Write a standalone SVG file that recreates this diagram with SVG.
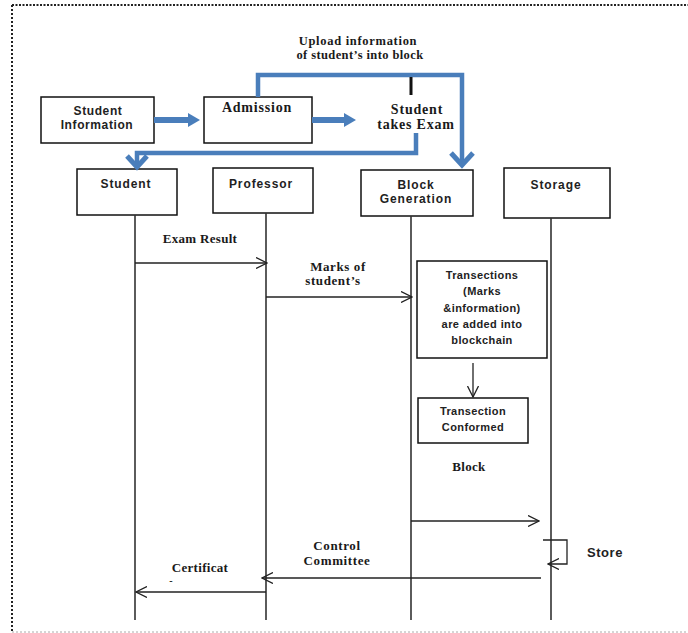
<svg xmlns="http://www.w3.org/2000/svg" width="688" height="633" viewBox="0 0 688 633">
<defs>
<style>
.box{fill:#fff;stroke:#111;stroke-width:1.5}
.life{stroke:#333;stroke-width:1.6;fill:none}
.msg{stroke:#222;stroke-width:1.3;fill:none;marker-end:url(#open)}
.blue{stroke:#4a7ebb;stroke-width:4.5;fill:none;stroke-linejoin:miter}
.serif{font-family:"Liberation Serif","Times New Roman",serif;font-weight:bold;fill:#1a1a1a;text-anchor:middle}
.sans{font-family:"Liberation Sans",Arial,sans-serif;font-weight:bold;fill:#222;text-anchor:middle}
</style>
<marker id="open" viewBox="0 0 12 12" refX="11" refY="6" markerWidth="12" markerHeight="12" markerUnits="userSpaceOnUse" orient="auto">
<path d="M0,0.5 L11,6 L0,11.5" fill="none" stroke="#222" stroke-width="1.3"/>
</marker>
</defs>
<rect width="688" height="633" fill="#fff"/>
<g id="border">
<line x1="12" y1="5" x2="688" y2="5" stroke="#222" stroke-width="2" stroke-dasharray="2,1.5"/>
<line x1="12" y1="5" x2="12" y2="632" stroke="#222" stroke-width="2" stroke-dasharray="2,2"/>
<line x1="12" y1="632" x2="688" y2="632" stroke="#aaa" stroke-width="1" stroke-dasharray="2,2"/>
</g>
<g id="upload-label">
<text class="serif" x="358" y="45" font-size="12.5" letter-spacing="0.7">Upload information</text>
<text class="serif" x="360" y="59" font-size="12.5" letter-spacing="0.4">of student’s into block</text>
</g>
<g id="student-information">
<rect class="box" x="41" y="97" width="113" height="46"/>
<text class="sans" x="98" y="115" font-size="12" letter-spacing="0.6">Student</text>
<text class="sans" x="97" y="129" font-size="12" letter-spacing="0.6">Information</text>
</g>
<g id="admission">
<rect class="box" x="204" y="97" width="108" height="46"/>
<text class="serif" x="257" y="112" font-size="14" letter-spacing="0.8">Admission</text>
</g>
<g id="student-takes-exam">
<text class="serif" x="417" y="114" font-size="14" letter-spacing="0.8">Student</text>
<text class="serif" x="416" y="129" font-size="14" letter-spacing="0.8">takes Exam</text>
</g>
<g id="student">
<rect class="box" x="77" y="169" width="100" height="46"/>
<text class="sans" x="126" y="188" font-size="12" letter-spacing="0.9">Student</text>
</g>
<g id="professor">
<rect class="box" x="213" y="168" width="100" height="45"/>
<text class="sans" x="261" y="188" font-size="12" letter-spacing="0.9">Professor</text>
</g>
<g id="block-generation">
<rect class="box" x="361" y="170" width="112" height="46"/>
<text class="sans" x="416" y="189" font-size="12" letter-spacing="0.9">Block</text>
<text class="sans" x="416" y="203" font-size="12" letter-spacing="0.9">Generation</text>
</g>
<g id="storage">
<rect class="box" x="504" y="168" width="106" height="50"/>
<text class="sans" x="556" y="189" font-size="12" letter-spacing="0.9">Storage</text>
</g>
<g id="transections">
<rect class="box" x="417" y="261" width="130" height="97"/>
<text class="sans" x="482" y="279" font-size="11" letter-spacing="0.4">Transections</text>
<text class="sans" x="482" y="295" font-size="11" letter-spacing="0.4">(Marks</text>
<text class="sans" x="482" y="312" font-size="11" letter-spacing="0.4">&amp;information)</text>
<text class="sans" x="482" y="328" font-size="11" letter-spacing="0.4">are added into</text>
<text class="sans" x="482" y="344" font-size="11" letter-spacing="0.4">blockchain</text>
</g>
<g id="transection-conformed">
<rect class="box" x="418" y="398" width="110" height="45"/>
<text class="sans" x="473" y="415" font-size="11" letter-spacing="0.4">Transection</text>
<text class="sans" x="473" y="431" font-size="11" letter-spacing="0.4">Conformed</text>
</g>
<g id="connectors">
<line class="life" x1="135" y1="215" x2="135" y2="620"/>
<line class="life" x1="266" y1="213" x2="266" y2="620"/>
<line class="life" x1="411" y1="216" x2="411" y2="620"/>
<line class="life" x1="551" y1="218" x2="551" y2="620"/>
<line x1="154" y1="120" x2="190" y2="120" stroke="#4a7ebb" stroke-width="6"/>
<polygon points="188,113 200,120 188,127" fill="#4a7ebb"/>
<line x1="312" y1="120" x2="346" y2="120" stroke="#4a7ebb" stroke-width="6"/>
<polygon points="344,113 356,120 344,127" fill="#4a7ebb"/>
<polyline class="blue" points="258,97 258,75 462,75 462,164"/>
<polyline points="451,153 462,165 473,153" fill="none" stroke="#4a7ebb" stroke-width="5"/>
<polyline class="blue" points="416,133 416,153 137,153 137,167"/>
<polyline points="127,156 137,167 147,156" fill="none" stroke="#4a7ebb" stroke-width="5"/>
<line x1="411" y1="77" x2="411" y2="95" stroke="#111" stroke-width="3"/>
<line class="msg" x1="135" y1="263" x2="267" y2="263"/>
<line class="msg" x1="266" y1="297" x2="412" y2="297"/>
<line class="msg" x1="473" y1="363" x2="473" y2="397"/>
<line class="msg" x1="411" y1="521" x2="539" y2="521"/>
<polyline class="msg" points="543,540 567,540 567,564 548,564"/>
<line class="msg" x1="541" y1="578" x2="262" y2="578"/>
<line class="msg" x1="266" y1="592" x2="136" y2="592"/>
</g>
<g id="labels">
<text class="serif" x="200" y="243" font-size="13" letter-spacing="0.3">Exam Result</text>
<text class="serif" x="338" y="271" font-size="13" letter-spacing="0.6">Marks of</text>
<text class="serif" x="333" y="285" font-size="13" letter-spacing="0.6">student’s</text>
<text class="serif" x="469" y="471" font-size="13" letter-spacing="0.3">Block</text>
<text class="sans" x="605" y="557" font-size="13" letter-spacing="0.6">Store</text>
<text class="serif" x="337" y="550" font-size="13" letter-spacing="0.6">Control</text>
<text class="serif" x="337" y="565" font-size="13" letter-spacing="0.6">Committee</text>
<text class="serif" x="200" y="572" font-size="13" letter-spacing="0.3">Certificat</text>
<text class="serif" x="171" y="584" font-size="10">-</text>
</g>
</svg>
